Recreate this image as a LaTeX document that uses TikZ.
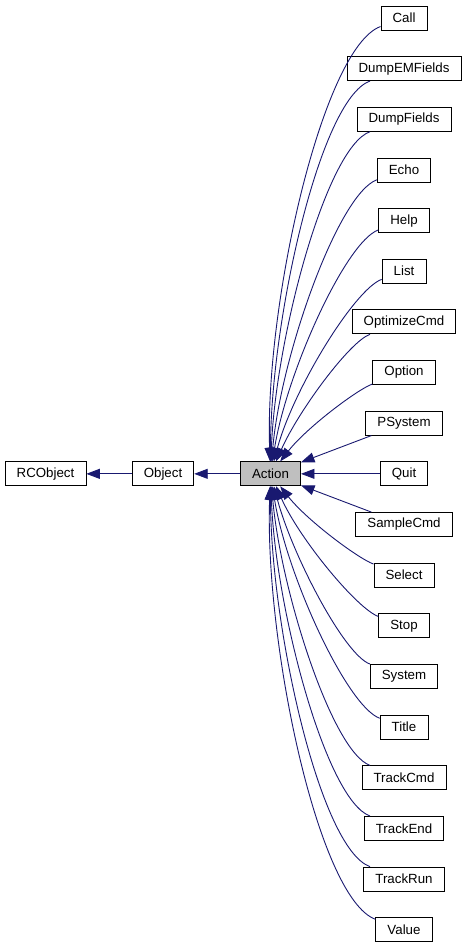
\documentclass[tikz,border=0pt]{standalone}
\usepackage{fontspec}
\setmainfont{Liberation Sans}
\usepackage{tikz}
\usetikzlibrary{arrows.meta}
\definecolor{edgeblue}{RGB}{25,25,112}
\definecolor{actgray}{RGB}{191,191,191}
\tikzset{edge/.style={draw=edgeblue, line width=0.9pt,
		-{Triangle[length=13.5pt,width=10pt]}},
	fanup/.style={out=200, out looseness=0.35, in looseness=0.9},
	fandown/.style={out=160, out looseness=0.35, in looseness=0.9}}

\begin{document}
\begin{tikzpicture}[x=1pt, y=1pt,
    cls/.style={rectangle, draw=black, line width=0.8pt, minimum height=24pt,
    inner xsep=11.6pt, inner ysep=0pt, font=\fontsize{13.3}{16}\selectfont},
    node distance=50.65pt
	]
		\useasboundingbox (0,0) rectangle (467,949);

		\node[cls] (Call) at (404,931) {Call};
		\node[cls, below of=Call] (DumpEMFields) {DumpEMFields};
		\node[cls, below of=DumpEMFields] (DumpFields) {DumpFields};
		\node[cls, below of=DumpFields] (Echo) {Echo};
		\node[cls, below of=Echo] (Help) {Help};
		\node[cls, below of=Help] (List) {List};
		\node[cls, below of=List] (OptimizeCmd) {OptimizeCmd};
		\node[cls, below of=OptimizeCmd] (Option) {Option};
		\node[cls, below of=Option] (PSystem) {PSystem};
		\node[cls, below of=PSystem] (Quit) {Quit};
		\node[cls, below of=Quit] (SampleCmd) {SampleCmd};
		\node[cls, below of=SampleCmd] (Select) {Select};
		\node[cls, below of=Select] (Stop) {Stop};
		\node[cls, below of=Stop] (System) {System};
		\node[cls, below of=System] (Title) {Title};
		\node[cls, below of=Title] (TrackCmd) {TrackCmd};
		\node[cls, below of=TrackCmd] (TrackEnd) {TrackEnd};
		\node[cls, below of=TrackEnd] (TrackRun) {TrackRun};
		\node[cls, below of=TrackRun] (Value) {Value};

		\node[cls, fill=actgray, left of=Quit, node distance=133.5pt] (Action) {Action};
		\node[cls, left of=Action, node distance=107.5pt] (Object) {Object};
		\node[cls, left of=Object, node distance=117.5pt] (RCObject) {RCObject};

		\draw[edge] (Object) -- (RCObject);
		\draw[edge] (Action) -- (Object);

		\draw[edge] (Call) to[fanup, in=92] (Action);
		\draw[edge] (DumpEMFields) to[fanup, in=90] (Action);
		\draw[edge] (DumpFields) to[fanup, in=88] (Action);
		\draw[edge] (Echo) to[fanup, in=85] (Action);
		\draw[edge] (Help) to[fanup, in=81] (Action);
		\draw[edge] (List) to[fanup, in=75] (Action);
		\draw[edge] (OptimizeCmd) to[fanup, in=66] (Action);
		\draw[edge] (Option) to[fanup, in=52] (Action);
		\draw[edge] (PSystem) -- (Action);
		\draw[edge] (Quit) -- (Action);
		\draw[edge] (SampleCmd) -- (Action);
		\draw[edge] (Select) to[fandown, in=308] (Action);
		\draw[edge] (Stop) to[fandown, in=294] (Action);
		\draw[edge] (System) to[fandown, in=285] (Action);
		\draw[edge] (Title) to[fandown, in=279] (Action);
		\draw[edge] (TrackCmd) to[fandown, in=275] (Action);
		\draw[edge] (TrackEnd) to[fandown, in=272] (Action);
		\draw[edge] (TrackRun) to[fandown, in=270] (Action);
		\draw[edge] (Value) to[fandown, in=268] (Action);

	\end{tikzpicture}
\end{document}
